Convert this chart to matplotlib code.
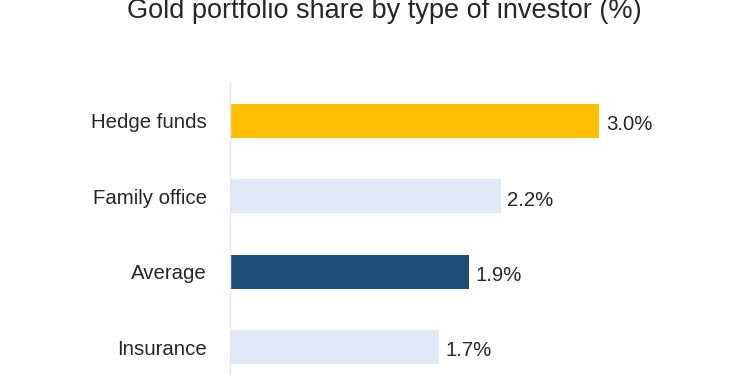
import matplotlib
matplotlib.use("Agg")
import matplotlib.pyplot as plt

categories = ["Hedge funds", "Family office", "Average", "Insurance"]
shares = [3.0, 2.2, 1.94, 1.7]
bar_colors = ["#FFC000", "#DEE9F5", "#1F4E79", "#DEE9F5"]
title = "Gold portfolio share by type of investor (%)"

plt.rcParams['font.family'] = ['Liberation Sans', 'DejaVu Sans']
text_color = "#262626"

fig = plt.figure(figsize=(7.5, 3.75), dpi=100)
# axes runs off the bottom of the figure, like the cropped reference
ax = fig.add_axes([230 / 750, 0.0, 492 / 750, (375 - 82) / 375])

y = list(range(len(categories)))
ax.barh(y, shares, height=0.45, color=bar_colors)

for yi, v in zip(y, shares):
    ax.text(v + 0.055, yi + 0.05, "{:.1f}%".format(v), va="center", ha="left",
            fontsize=14.7, color=text_color)

ax.set_yticks(y)
ax.set_yticklabels(categories, fontsize=14.7, color=text_color)
ax.tick_params(axis="y", length=0, pad=16.5)
ax.set_xticks([])
ax.set_xlim(0, 4)
ax.set_ylim(3.37, -0.517)

for side in ["top", "right", "bottom"]:
    ax.spines[side].set_visible(False)
ax.spines["left"].set_color("#E6E6E6")
ax.spines["left"].set_linewidth(1.0)

fig.text(0.513, 0.952, title, ha="center", va="baseline",
         fontsize=19.5, color=text_color)

fig.savefig("out.png", dpi=100)
